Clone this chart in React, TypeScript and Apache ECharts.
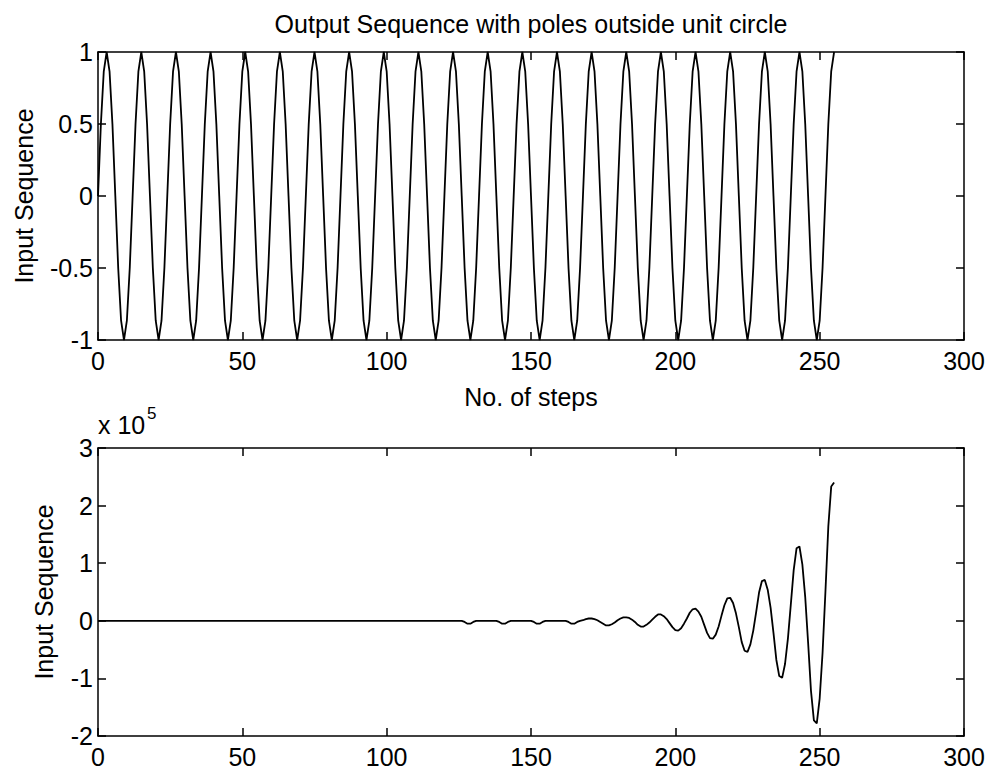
import React, { useEffect, useRef } from "react";
import * as echarts from "echarts";

// ---- Data ----
const titleText = "Output Sequence with poles outside unit circle";
const yLabelText = "Input Sequence";
const xLabelText = "No. of steps";

const xTicks = { min: 0, max: 300, interval: 50 };
const topYTicks = { min: -1, max: 1, interval: 0.5 };
const bottomYTicks = { min: -2, max: 3, interval: 1 };

// Input sequence, one value per step (steps 0..255)
const inputSequence = [
  0, 0.5, 0.866, 1, 0.866, 0.5, 0, -0.5, -0.866, -1, -0.866, -0.5,
  0, 0.5, 0.866, 1, 0.866, 0.5, 0, -0.5, -0.866, -1, -0.866, -0.5,
  0, 0.5, 0.866, 1, 0.866, 0.5, 0, -0.5, -0.866, -1, -0.866, -0.5,
  0, 0.5, 0.866, 1, 0.866, 0.5, 0, -0.5, -0.866, -1, -0.866, -0.5,
  0, 0.5, 0.866, 1, 0.866, 0.5, 0, -0.5, -0.866, -1, -0.866, -0.5,
  0, 0.5, 0.866, 1, 0.866, 0.5, 0, -0.5, -0.866, -1, -0.866, -0.5,
  0, 0.5, 0.866, 1, 0.866, 0.5, 0, -0.5, -0.866, -1, -0.866, -0.5,
  0, 0.5, 0.866, 1, 0.866, 0.5, 0, -0.5, -0.866, -1, -0.866, -0.5,
  0, 0.5, 0.866, 1, 0.866, 0.5, 0, -0.5, -0.866, -1, -0.866, -0.5,
  0, 0.5, 0.866, 1, 0.866, 0.5, 0, -0.5, -0.866, -1, -0.866, -0.5,
  0, 0.5, 0.866, 1, 0.866, 0.5, 0, -0.5, -0.866, -1, -0.866, -0.5,
  0, 0.5, 0.866, 1, 0.866, 0.5, 0, -0.5, -0.866, -1, -0.866, -0.5,
  0, 0.5, 0.866, 1, 0.866, 0.5, 0, -0.5, -0.866, -1, -0.866, -0.5,
  0, 0.5, 0.866, 1, 0.866, 0.5, 0, -0.5, -0.866, -1, -0.866, -0.5,
  0, 0.5, 0.866, 1, 0.866, 0.5, 0, -0.5, -0.866, -1, -0.866, -0.5,
  0, 0.5, 0.866, 1, 0.866, 0.5, 0, -0.5, -0.866, -1, -0.866, -0.5,
  0, 0.5, 0.866, 1, 0.866, 0.5, 0, -0.5, -0.866, -1, -0.866, -0.5,
  0, 0.5, 0.866, 1, 0.866, 0.5, 0, -0.5, -0.866, -1, -0.866, -0.5,
  0, 0.5, 0.866, 1, 0.866, 0.5, 0, -0.5, -0.866, -1, -0.866, -0.5,
  0, 0.5, 0.866, 1, 0.866, 0.5, 0, -0.5, -0.866, -1, -0.866, -0.5,
  0, 0.5, 0.866, 1, 0.866, 0.5, 0, -0.5, -0.866, -1, -0.866, -0.5,
  0, 0.5, 0.866, 1,
];

// Output sequence in units of 10^5, one value per step (steps 0..255)
const outputSequenceE5 = [
  0, 0, 0, 0, 0, 0, 0, 0, 0, 0,
  0, 0, 0, 0, 0, 0, 0, 0, 0, 0,
  0, 0, 0, 0, 0, 0, 0, 0, 0, 0,
  0, 0, 0, 0, 0, 0, 0, 0, 0, 0,
  0, 0, 0, 0, 0, 0, 0, 0, 0, 0,
  0, 0, 0, 0, 0, 0, 0, 0, 0, 0,
  0, 0, 0, 0, 0, 0, 0, 0, 0, 0,
  0, 0, 0, 0, 0, 0, 0, 0, 0, 0,
  0, 0, 0, 0, 0, 0, 0, 0, 0, 0,
  0, 0, 0, 0, 0, 0, 0, 0, 0, 0,
  0, 0, 0, 0, 0, 0, 0, 0, 0, 0,
  0, 0, 0, 0, 0, 0, 0, 0, 0, 0,
  0, 0, 0, 0, 0, 0, 0,
  -0.02, -0.05, -0.05, -0.02, 0, 0, 0, 0, 0, 0, 0, 0,
  -0.02, -0.05, -0.05, -0.02, 0, 0, 0, 0, 0, 0, 0, 0,
  -0.02, -0.05, -0.05, -0.02, 0, 0, 0, 0, 0, 0, 0, 0,
  -0.02, -0.05, -0.05, -0.02, 0,
  0.01, 0.03, 0.04, 0.04, 0.03, 0.01,
  -0.02, -0.05, -0.08, -0.08, -0.06, -0.03,
  0.01, 0.04, 0.06, 0.06, 0.05, 0.02,
  -0.02, -0.07, -0.1, -0.1, -0.07, -0.03,
  0.02, 0.07, 0.11, 0.11, 0.08, 0.03,
  -0.04, -0.11, -0.16, -0.17, -0.13, -0.05,
  0.04, 0.14, 0.2, 0.21, 0.16, 0.07,
  -0.07, -0.21, -0.3, -0.31, -0.24, -0.1,
  0.09, 0.27, 0.39, 0.4, 0.31, 0.13,
  -0.11, -0.37, -0.52, -0.54, -0.41, -0.17,
  0.15, 0.49, 0.69, 0.71, 0.54, 0.23,
  -0.21, -0.68, -0.96, -0.99, -0.75, -0.31,
  0.28, 0.88, 1.26, 1.29, 0.98, 0.41,
  -0.38, -1.22, -1.73, -1.78, -1.35, -0.56,
  0.51, 1.64, 2.33, 2.4,
];

const FONT = '"Liberation Sans", Arial, Helvetica, sans-serif';
const FS = 25;
const BLACK = "#000";

export default function App() {
  const ref = useRef<HTMLDivElement>(null);

  useEffect(() => {
    if (!ref.current) return;
    const chart = echarts.init(ref.current, undefined, { renderer: "svg" });

    const topData = inputSequence.map((v, i) => [i, v]);
    const bottomData = outputSequenceE5.map((v, i) => [i, v]);

    const axisStyle = { color: BLACK, width: 1.5 };
    const mkX = (grid: number, pos: "bottom" | "top", labels: boolean) => ({
      type: "value",
      gridIndex: grid,
      position: pos,
      min: xTicks.min,
      max: xTicks.max,
      interval: xTicks.interval,
      axisLine: { show: true, onZero: false, lineStyle: axisStyle },
      axisTick: { show: true, inside: true, length: 8, lineStyle: axisStyle },
      axisLabel: {
        show: labels,
        color: BLACK,
        fontFamily: FONT,
        fontSize: FS,
        margin: 8,
      },
      splitLine: { show: false },
    });
    const mkY = (
      grid: number,
      pos: "left" | "right",
      labels: boolean,
      t: { min: number; max: number; interval: number }
    ) => ({
      type: "value",
      gridIndex: grid,
      position: pos,
      min: t.min,
      max: t.max,
      interval: t.interval,
      axisLine: { show: true, onZero: false, lineStyle: axisStyle },
      axisTick: { show: true, inside: true, length: 8, lineStyle: axisStyle },
      axisLabel: {
        show: labels,
        color: BLACK,
        fontFamily: FONT,
        fontSize: FS,
        margin: 5,
      },
      splitLine: { show: false },
    });

    const textStyle = (text: string, extra: any = {}) => ({
      text,
      fill: BLACK,
      font: `${FS}px ${FONT}`,
      textAlign: "center",
      textVerticalAlign: "middle",
      ...extra,
    });

    chart.setOption({
      animation: false,
      backgroundColor: "#fff",
      grid: [
        { left: 98, top: 52, width: 866, height: 288, containLabel: false },
        { left: 98, top: 448, width: 866, height: 288, containLabel: false },
      ],
      xAxis: [
        mkX(0, "bottom", true),
        mkX(0, "top", false),
        mkX(1, "bottom", true),
        mkX(1, "top", false),
      ],
      yAxis: [
        mkY(0, "left", true, topYTicks),
        mkY(0, "right", false, topYTicks),
        mkY(1, "left", true, bottomYTicks),
        mkY(1, "right", false, bottomYTicks),
      ],
      series: [
        {
          type: "line",
          xAxisIndex: 0,
          yAxisIndex: 0,
          data: topData,
          showSymbol: false,
          clip: false,
          lineStyle: { color: BLACK, width: 1.8 },
        },
        {
          type: "line",
          xAxisIndex: 2,
          yAxisIndex: 2,
          data: bottomData,
          showSymbol: false,
          clip: false,
          lineStyle: { color: BLACK, width: 1.8 },
        },
      ],
      graphic: [
        { type: "text", x: 531, y: 24, style: textStyle(titleText) },
        { type: "text", x: 531, y: 397, style: textStyle(xLabelText) },
        {
          type: "text",
          x: 24,
          y: 196,
          rotation: Math.PI / 2,
          style: textStyle(yLabelText),
        },
        {
          type: "text",
          x: 44,
          y: 592,
          rotation: Math.PI / 2,
          style: textStyle(yLabelText),
        },
        {
          type: "text",
          x: 98,
          y: 425,
          style: textStyle("x 10", { textAlign: "left" }),
        },
        {
          type: "text",
          x: 147,
          y: 413,
          style: textStyle("5", {
            textAlign: "left",
            font: `17px ${FONT}`,
          }),
        },
      ],
    });

    return () => chart.dispose();
  }, []);

  return (
    <div
      ref={ref}
      style={{ position: "fixed", left: 0, top: 0, width: 993, height: 776 }}
    />
  );
}
